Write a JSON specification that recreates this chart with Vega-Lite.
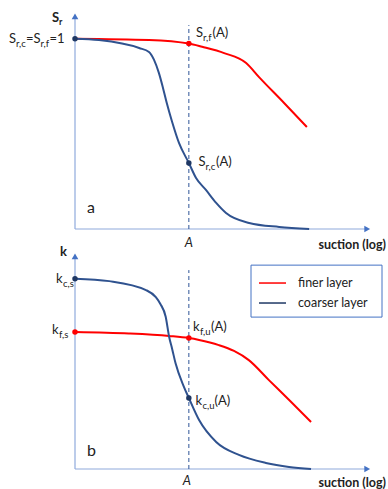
{
  "$schema": "https://vega.github.io/schema/vega-lite/v6.json",
  "autosize": {"type": "pad"},
  "padding": {"left": 9, "top": 12, "right": 0, "bottom": 0},
  "spacing": 23,
  "bounds": "flush",
  "config": {"view": {"stroke": null}},
  "datasets": {
    "redA": [{"x":0,"y":1.0},{"x":1.95,"y":0.993},{"x":3.0,"y":0.974},{"x":3.35,"y":0.957},{"x":3.93,"y":0.924},{"x":4.51,"y":0.872},{"x":4.85,"y":0.798},{"x":5.51,"y":0.662},{"x":6.11,"y":0.536}],
    "blueA": [{"x":0,"y":1.0},{"x":0.63,"y":0.993},{"x":1.69,"y":0.951},{"x":1.95,"y":0.93},{"x":2.08,"y":0.89},{"x":2.21,"y":0.82},{"x":2.32,"y":0.74},{"x":2.42,"y":0.66},{"x":2.56,"y":0.562},{"x":2.74,"y":0.452},{"x":3.0,"y":0.347},{"x":3.19,"y":0.268},{"x":3.45,"y":0.205},{"x":3.72,"y":0.137},{"x":3.98,"y":0.084},{"x":4.59,"y":0.032},{"x":5.38,"y":0.011},{"x":6.17,"y":0.0}],
    "redB": [{"x":0,"y":0.72},{"x":1.42,"y":0.712},{"x":2.48,"y":0.699},{"x":3.0,"y":0.688},{"x":3.27,"y":0.678},{"x":3.79,"y":0.651},{"x":4.19,"y":0.62},{"x":4.58,"y":0.572},{"x":5.11,"y":0.467},{"x":5.67,"y":0.357},{"x":6.22,"y":0.247}],
    "blueB": [{"x":0,"y":1.0},{"x":0.9,"y":0.987},{"x":1.87,"y":0.94},{"x":2.13,"y":0.903},{"x":2.25,"y":0.867},{"x":2.39,"y":0.8},{"x":2.48,"y":0.695},{"x":2.56,"y":0.631},{"x":2.65,"y":0.555},{"x":2.87,"y":0.432},{"x":3.0,"y":0.373},{"x":3.27,"y":0.257},{"x":3.72,"y":0.142},{"x":4.32,"y":0.074},{"x":5.03,"y":0.032},{"x":5.64,"y":0.011},{"x":6.22,"y":0.0}]
  },
  "vconcat": [
    {
      "width": 296,
      "height": 217,
      "encoding": {
        "x": {"field": "x", "type": "quantitative", "scale": {"domain": [0, 7.8], "nice": false, "zero": false}, "axis": null},
        "y": {"field": "y", "type": "quantitative", "scale": {"domain": [0, 1.14], "nice": false, "zero": false}, "axis": null}
      },
      "layer": [
        {"data": {"values": [{"x":0,"y":0,"y2":1.11}]}, "mark": {"type":"rule","color":"#8FAADC","strokeWidth":1.2}, "encoding": {"y2": {"field":"y2"}}},
        {"data": {"values": [{"x":0,"y":0,"x2":7.7}]}, "mark": {"type":"rule","color":"#8FAADC","strokeWidth":1.2}, "encoding": {"x2": {"field":"x2"}}},
        {"data": {"values": [{"x":0,"y":1.117}]}, "mark": {"type":"point","shape":"triangle-up","filled":true,"size":45,"color":"#4472C4","opacity":1}},
        {"data": {"values": [{"x":7.7,"y":0}]}, "mark": {"type":"point","shape":"triangle-right","filled":true,"size":45,"color":"#4472C4","opacity":1}},
        {"data": {"values": [{"x":3,"y":0,"y2":1.071}]}, "mark": {"type":"rule","color":"#2F5597","strokeWidth":1,"strokeDash":[4,3]}, "encoding": {"y2": {"field":"y2"}}},
        {"data": {"name": "redA"}, "mark": {"type":"line","color":"#FF0000","strokeWidth":2,"interpolate":"monotone"}},
        {"data": {"name": "blueA"}, "mark": {"type":"line","color":"#2F528F","strokeWidth":2,"interpolate":"monotone"}},
        {"data": {"values": [{"x":3,"y":0.974}]}, "mark": {"type":"point","shape":"circle","filled":true,"size":30,"color":"#FF0000","opacity":1}},
        {"data": {"values": [{"x":0,"y":1.0},{"x":3,"y":0.347}]}, "mark": {"type":"point","shape":"circle","filled":true,"size":30,"color":"#1F3864","opacity":1}},
        {"data": {"values": [{"x":-1.739,"y":0.977,"t":"S"},{"x":-1.291,"y":0.977,"t":"=S"},{"x":-0.672,"y":0.977,"t":"=1"},{"x":3.188,"y":1.008,"t":"S"},{"x":3.623,"y":1.008,"t":"(A)"},{"x":3.254,"y":0.331,"t":"S"},{"x":3.715,"y":0.331,"t":"(A)"}]},
         "mark": {"type":"text","font":"Lato","fontSize":13,"align":"left","baseline":"alphabetic","color":"#222222"}, "encoding": {"text": {"field":"t"}}},
        {"data": {"values": [{"x":-1.555,"y":0.956,"t":"r,c"},{"x":-0.909,"y":0.956,"t":"r,f"},{"x":3.373,"y":0.987,"t":"r,f"},{"x":3.439,"y":0.31,"t":"r,c"}]},
         "mark": {"type":"text","font":"Lato","fontSize":9.5,"align":"left","baseline":"alphabetic","color":"#222222"}, "encoding": {"text": {"field":"t"}}},
        {"data": {"values": [{"x":-0.606,"y":1.087,"t":"S"}]}, "mark": {"type":"text","font":"Lato","fontSize":13,"fontWeight":"bold","align":"left","baseline":"alphabetic","color":"#222222"}, "encoding": {"text": {"field":"t"}}},
        {"data": {"values": [{"x":-0.422,"y":1.071,"t":"r"}]}, "mark": {"type":"text","font":"Lato","fontSize":9,"fontWeight":"bold","align":"left","baseline":"alphabetic","color":"#222222"}, "encoding": {"text": {"field":"t"}}},
        {"data": {"values": [{"x":0.316,"y":0.084,"t":"a"}]}, "mark": {"type":"text","font":"Lato","fontSize":16,"align":"left","baseline":"alphabetic","color":"#222222"}, "encoding": {"text": {"field":"t"}}},
        {"data": {"values": [{"x":3.0,"y":-0.0945,"t":"A"}]}, "mark": {"type":"text","font":"Lato","fontSize":13,"fontStyle":"italic","align":"center","baseline":"alphabetic","color":"#222222"}, "encoding": {"text": {"field":"t"}}},
        {"data": {"values": [{"x":8.195,"y":-0.105,"t":"suction (log)"}]}, "mark": {"type":"text","font":"Lato","fontSize":12.5,"fontWeight":"bold","align":"right","baseline":"alphabetic","color":"#222222"}, "encoding": {"text": {"field":"t"}}}
      ]
    },
    {
      "width": 296,
      "height": 217,
      "encoding": {
        "x": {"field": "x", "type": "quantitative", "scale": {"domain": [0, 7.8], "nice": false, "zero": false}, "axis": null},
        "y": {"field": "y", "type": "quantitative", "scale": {"domain": [0, 1.14], "nice": false, "zero": false}, "axis": null}
      },
      "layer": [
        {"data": {"values": [{"x":0,"y":0,"y2":1.11}]}, "mark": {"type":"rule","color":"#8FAADC","strokeWidth":1.2}, "encoding": {"y2": {"field":"y2"}}},
        {"data": {"values": [{"x":0,"y":0,"x2":7.7}]}, "mark": {"type":"rule","color":"#8FAADC","strokeWidth":1.2}, "encoding": {"x2": {"field":"x2"}}},
        {"data": {"values": [{"x":0,"y":1.117}]}, "mark": {"type":"point","shape":"triangle-up","filled":true,"size":45,"color":"#4472C4","opacity":1}},
        {"data": {"values": [{"x":7.7,"y":0}]}, "mark": {"type":"point","shape":"triangle-right","filled":true,"size":45,"color":"#4472C4","opacity":1}},
        {"data": {"values": [{"x":3,"y":0,"y2":1.045}]}, "mark": {"type":"rule","color":"#2F5597","strokeWidth":1,"strokeDash":[4,3]}, "encoding": {"y2": {"field":"y2"}}},
        {"data": {"name": "redB"}, "mark": {"type":"line","color":"#FF0000","strokeWidth":2,"interpolate":"monotone"}},
        {"data": {"name": "blueB"}, "mark": {"type":"line","color":"#2F528F","strokeWidth":2,"interpolate":"monotone"}},
        {"data": {"values": [{"x":0,"y":0.72},{"x":3,"y":0.688}]}, "mark": {"type":"point","shape":"circle","filled":true,"size":30,"color":"#FF0000","opacity":1}},
        {"data": {"values": [{"x":0,"y":1.0},{"x":3,"y":0.373}]}, "mark": {"type":"point","shape":"circle","filled":true,"size":30,"color":"#1F3864","opacity":1}},
        {"data": {"values": [{"x":4.638,"y":1.071,"x2":8.09,"y2":0.798}]}, "mark": {"type":"rect","fill":"white","stroke":"#4472C4","strokeWidth":1}, "encoding": {"x2": {"field":"x2"}, "y2": {"field":"y2"}}},
        {"data": {"values": [{"x":4.848,"y":0.977,"x2":5.56}]}, "mark": {"type":"rule","color":"#FF0000","strokeWidth":1.5}, "encoding": {"x2": {"field":"x2"}}},
        {"data": {"values": [{"x":4.848,"y":0.872,"x2":5.56}]}, "mark": {"type":"rule","color":"#1F3864","strokeWidth":1.5}, "encoding": {"x2": {"field":"x2"}}},
        {"data": {"values": [{"x":5.876,"y":0.956,"t":"finer layer"},{"x":5.876,"y":0.851,"t":"coarser layer"}]},
         "mark": {"type":"text","font":"Lato","fontSize":12.5,"align":"left","baseline":"alphabetic","color":"#222222"}, "encoding": {"text": {"field":"t"}}},
        {"data": {"values": [{"x":-0.501,"y":0.977,"t":"k"},{"x":-0.606,"y":0.709,"t":"k"},{"x":3.109,"y":0.725,"t":"k"},{"x":3.584,"y":0.725,"t":"(A)"},{"x":3.175,"y":0.336,"t":"k"},{"x":3.676,"y":0.336,"t":"(A)"}]},
         "mark": {"type":"text","font":"Lato","fontSize":13,"align":"left","baseline":"alphabetic","color":"#222222"}, "encoding": {"text": {"field":"t"}}},
        {"data": {"values": [{"x":-0.316,"y":0.956,"t":"c,s"},{"x":-0.422,"y":0.688,"t":"f,s"},{"x":3.294,"y":0.704,"t":"f,u"},{"x":3.36,"y":0.315,"t":"c,u"}]},
         "mark": {"type":"text","font":"Lato","fontSize":9.5,"align":"left","baseline":"alphabetic","color":"#222222"}, "encoding": {"text": {"field":"t"}}},
        {"data": {"values": [{"x":-0.395,"y":1.119,"t":"k"}]}, "mark": {"type":"text","font":"Lato","fontSize":13,"fontWeight":"bold","align":"left","baseline":"alphabetic","color":"#222222"}, "encoding": {"text": {"field":"t"}}},
        {"data": {"values": [{"x":0.316,"y":0.068,"t":"b"}]}, "mark": {"type":"text","font":"Lato","fontSize":16,"align":"left","baseline":"alphabetic","color":"#222222"}, "encoding": {"text": {"field":"t"}}},
        {"data": {"values": [{"x":2.95,"y":-0.084,"t":"A"}]}, "mark": {"type":"text","font":"Lato","fontSize":13,"fontStyle":"italic","align":"center","baseline":"alphabetic","color":"#222222"}, "encoding": {"text": {"field":"t"}}},
        {"data": {"values": [{"x":8.195,"y":-0.0945,"t":"suction (log)"}]}, "mark": {"type":"text","font":"Lato","fontSize":12.5,"fontWeight":"bold","align":"right","baseline":"alphabetic","color":"#222222"}, "encoding": {"text": {"field":"t"}}}
      ]
    }
  ]
}
